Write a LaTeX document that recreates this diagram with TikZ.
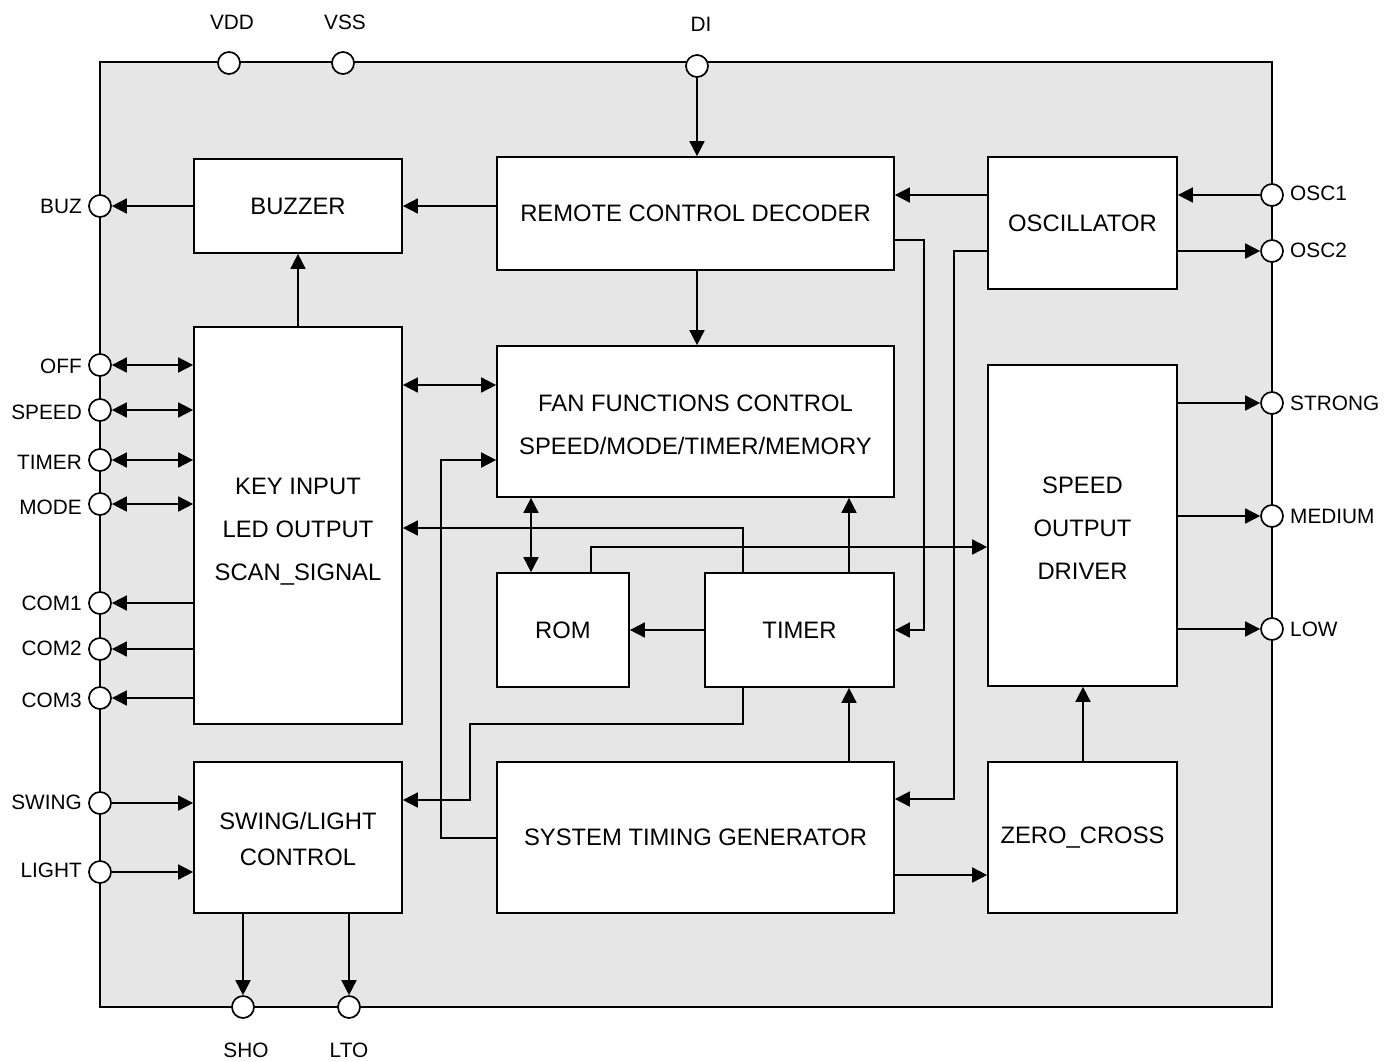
\documentclass[tikz,border=0pt]{standalone}
\usepackage{fontspec}
\setmainfont{Liberation Sans}
\usetikzlibrary{arrows.meta}
\definecolor{chipgray}{HTML}{E6E6E6}
\begin{document}
\begin{tikzpicture}[x=1pt,y=-1pt,
  blk/.style={draw, fill=white, line width=1.7pt, inner sep=0pt, align=center, font=\fontsize{23.8}{43}\selectfont},
  btext/.style={inner sep=0pt, align=center, font=\fontsize{23.8}{43}\selectfont},
  pinc/.style={circle, draw, fill=white, line width=1.7pt, minimum size=22pt, inner sep=0pt},
  plabel/.style={inner sep=0pt, font=\fontsize{20.8}{24}\selectfont},
  arr/.style={line width=1.7pt, -{Triangle[length=15pt,width=15pt]}},
  dbl/.style={line width=1.7pt, {Triangle[length=15pt,width=15pt]}-{Triangle[length=15pt,width=15pt]}},
  wire/.style={line width=1.7pt}]
\useasboundingbox (0,0) rectangle (1396,1061);
% chip body
\node[draw, fill=chipgray, line width=2.5pt, minimum width=1172pt, minimum height=945pt, inner sep=0pt] (chip) at (686,534.5) {};
% blocks
\node[blk, minimum width=208pt, minimum height=94pt] (buzzer) at (298,206) {BUZZER};
\node[blk, minimum width=397pt, minimum height=113pt] (rcd) at (695.5,213.5) {REMOTE CONTROL DECODER};
\node[blk, minimum width=189pt, minimum height=132pt] (osc) at (1082.5,223) {OSCILLATOR};
\node[blk, minimum width=208pt, minimum height=397pt] (key) at (298,525.5) {};
\node[btext] (keyt) at (298,531.5) {KEY INPUT\\LED OUTPUT\\SCAN\_SIGNAL};
\node[blk, minimum width=397pt, minimum height=151pt] (ffc) at (695.5,421.5) {};
\node[btext] (ffct) at (695.5,424.5) {FAN FUNCTIONS CONTROL\\SPEED/MODE/TIMER/MEMORY};
\node[blk, minimum width=132pt, minimum height=114pt] (rom) at (563,630) {ROM};
\node[blk, minimum width=189pt, minimum height=114pt] (timer) at (799.5,630) {TIMER};
\node[blk, minimum width=189pt, minimum height=321pt] (sod) at (1082.5,525.5) {};
\node[btext] (sodt) at (1082.5,528.5) {SPEED\\OUTPUT\\DRIVER};
\node[blk, minimum width=208pt, minimum height=151pt] (swing) at (298,837.5) {};
\node[btext, font=\fontsize{23.8}{36}\selectfont] (swingt) at (298,838.5) {SWING/LIGHT\\CONTROL};
\node[blk, minimum width=397pt, minimum height=151pt] (stg) at (695.5,837.5) {SYSTEM TIMING GENERATOR};
\node[blk, minimum width=189pt, minimum height=151pt] (zc) at (1082.5,837.5) {ZERO\_CROSS};
% pins
\node[pinc] (vdd) at (229,63) {};
\node[pinc] (vss) at (343,63) {};
\node[pinc] (di) at (697,66) {};
\node[pinc] (buz) at (100,206) {};
\node[pinc] (off) at (100,365) {};
\node[pinc] (speed) at (100,410) {};
\node[pinc] (tmr) at (100,460) {};
\node[pinc] (mode) at (100,504) {};
\node[pinc] (com1) at (100,603) {};
\node[pinc] (com2) at (100,649) {};
\node[pinc] (com3) at (100,698) {};
\node[pinc] (swingp) at (100,803) {};
\node[pinc] (light) at (100,872) {};
\node[pinc] (sho) at (243,1007) {};
\node[pinc] (lto) at (349,1007) {};
\node[pinc] (osc1) at (1272,195) {};
\node[pinc] (osc2) at (1272,251) {};
\node[pinc] (strong) at (1272,403) {};
\node[pinc] (medium) at (1272,516) {};
\node[pinc] (low) at (1272,629) {};
% pin labels
\node[plabel] (lvdd) at (232,22) {VDD};
\node[plabel] (lvss) at (345,22) {VSS};
\node[plabel] (ldi) at (701,24) {DI};
\node[plabel] (lsho) at (246,1050) {SHO};
\node[plabel] (llto) at (349,1050) {LTO};
\node[plabel, anchor=east] (lbuz) at (82,206) {BUZ};
\node[plabel, anchor=east] (loff) at (82,366) {OFF};
\node[plabel, anchor=east] (lspeed) at (82,412) {SPEED};
\node[plabel, anchor=east] (ltmr) at (82,462) {TIMER};
\node[plabel, anchor=east] (lmode) at (82,507) {MODE};
\node[plabel, anchor=east] (lcom1) at (82,603) {COM1};
\node[plabel, anchor=east] (lcom2) at (82,648) {COM2};
\node[plabel, anchor=east] (lcom3) at (82,700) {COM3};
\node[plabel, anchor=east] (lswing) at (82,802) {SWING};
\node[plabel, anchor=east] (llight) at (82,870) {LIGHT};
\node[plabel, anchor=west] (losc1) at (1290,193) {OSC1};
\node[plabel, anchor=west] (losc2) at (1290,250) {OSC2};
\node[plabel, anchor=west] (lstrong) at (1290,403) {STRONG};
\node[plabel, anchor=west] (lmedium) at (1290,516) {MEDIUM};
\node[plabel, anchor=west] (llow) at (1290,629) {LOW};
% routing coordinates
\coordinate (c1) at (954,799);
\coordinate (c2) at (924,240);
\coordinate (c4) at (450,385);
\coordinate (c5) at (441,460);
\coordinate (c5b) at (441,838);
\coordinate (c6) at (531,530);
\coordinate (c7) at (849,700);
\coordinate (c8) at (743,528);
\coordinate (c9) at (591,547);
\coordinate (c10) at (743,724);
\coordinate (c11) at (470,724);
\coordinate (c12) at (470,800);
\coordinate (c13) at (940,875);
\coordinate (c14) at (1083,724);
% connectors
\draw[arr] (buzzer.west) -- (buz);
\draw[arr] (rcd.west |- buzzer.east) -- (buzzer.east);
\draw[arr] (di) -- (di |- rcd.north);
\draw[arr] (osc.west |- osc1) -- (rcd.east |- osc1);
\draw[arr] (osc1) -- (osc.east |- osc1);
\draw[arr] (osc.east |- osc2) -- (osc2);
\draw[arr] (osc.west |- osc2) -| (c1) -- (stg.east |- c1);
\draw[arr] (rcd.east |- c2) -- (c2) |- (timer.east);
\draw[arr] (rcd.south -| di) -- (ffc.north -| di);
\draw[dbl] (key.east |- c4) -- (ffc.west |- c4);
\draw[arr] (stg.west |- c5b) -- (c5b) -- (c5) -- (ffc.west |- c5);
\draw[dbl] (ffc.south -| c6) -- (rom.north -| c6);
\draw[arr] (timer.north -| c7) -- (ffc.south -| c7);
\draw[arr] (timer.west) -- (rom.east);
\draw[arr] (timer.north -| c8) -- (c8) -- (key.east |- c8);
\draw[arr] (rom.north -| c9) -- (c9) -- (sod.west |- c9);
\draw[arr] (stg.north -| c7) -- (timer.south -| c7);
\draw[arr] (timer.south -| c10) -- (c10) -- (c11) -- (c12) -- (swing.east |- c12);
\draw[arr] (stg.east |- c13) -- (zc.west |- c13);
\draw[arr] (zc.north -| c14) -- (sod.south -| c14);
\draw[arr] (sod.east |- strong) -- (strong);
\draw[arr] (sod.east |- medium) -- (medium);
\draw[arr] (sod.east |- low) -- (low);
\draw[arr] (key.north) -- (buzzer.south);
\draw[dbl] (off) -- (key.west |- off);
\draw[dbl] (speed) -- (key.west |- speed);
\draw[dbl] (tmr) -- (key.west |- tmr);
\draw[dbl] (mode) -- (key.west |- mode);
\draw[arr] (key.west |- com1) -- (com1);
\draw[arr] (key.west |- com2) -- (com2);
\draw[arr] (key.west |- com3) -- (com3);
\draw[arr] (swingp) -- (swing.west |- swingp);
\draw[arr] (light) -- (swing.west |- light);
\draw[arr] (swing.south -| sho) -- (sho);
\draw[arr] (swing.south -| lto) -- (lto);
\end{tikzpicture}
\end{document}
